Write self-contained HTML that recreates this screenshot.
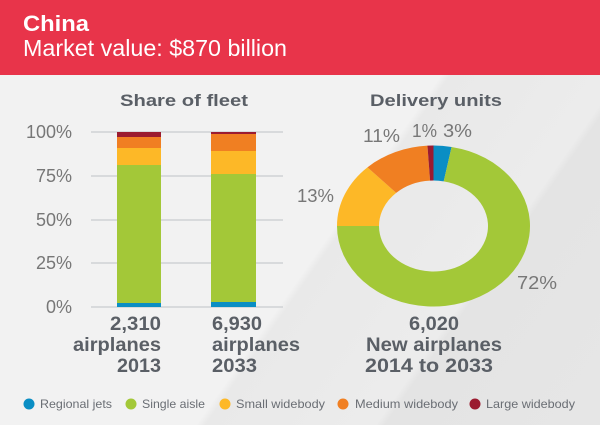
<!DOCTYPE html>
<html><head><meta charset="utf-8"><style>
body{margin:0;width:600px;height:425px;overflow:hidden;font-family:"Liberation Sans",sans-serif;}
.wrap{position:relative;width:600px;height:425px;background:linear-gradient(125deg,#f2f2f2 0%,#f2f2f2 55%,#e9e9e9 56%,#ececec 75%,#e4e4e4 76%,#e6e6e6 100%);}
</style></head><body><div class="wrap">
<svg width="600" height="425" style="position:absolute;left:0;top:0" font-family="Liberation Sans, sans-serif">
<rect x="0" y="0" width="600" height="75" fill="#e8344a"/>
<text x="23" y="31" font-size="22" font-weight="bold" fill="#fff" textLength="66" lengthAdjust="spacingAndGlyphs">China</text>
<text x="23" y="56" font-size="23" fill="#fff" textLength="264" lengthAdjust="spacingAndGlyphs">Market value: $870 billion</text>
<g font-size="17" font-weight="bold" fill="#5a5f66">
<text x="120" y="106" textLength="128" lengthAdjust="spacingAndGlyphs">Share of fleet</text>
<text x="370" y="106" textLength="132" lengthAdjust="spacingAndGlyphs">Delivery units</text>
</g>
<g stroke="#c9cccf" stroke-width="1.2">
<line x1="91" y1="132" x2="283" y2="132"/><line x1="91" y1="176" x2="283" y2="176"/>
<line x1="91" y1="220" x2="283" y2="220"/><line x1="91" y1="263" x2="283" y2="263"/>
<line x1="91" y1="307" x2="283" y2="307"/>
</g>
<g font-size="18" fill="#777" text-anchor="end">
<text x="72" y="138">100%</text><text x="72" y="182">75%</text><text x="72" y="226">50%</text>
<text x="72" y="269">25%</text><text x="72" y="313">0%</text>
</g>
<rect x="117" y="132" width="44" height="5" fill="#9b1b30"/>
<rect x="117" y="137" width="44" height="11" fill="#f07f22"/>
<rect x="117" y="148" width="44" height="17" fill="#fdb827"/>
<rect x="117" y="165" width="44" height="138" fill="#a3c838"/>
<rect x="117" y="303" width="44" height="4" fill="#0a8ec4"/>
<rect x="211" y="132" width="45" height="2" fill="#9b1b30"/>
<rect x="211" y="134" width="45" height="17" fill="#f07f22"/>
<rect x="211" y="151" width="45" height="23" fill="#fdb827"/>
<rect x="211" y="174" width="45" height="128" fill="#a3c838"/>
<rect x="211" y="302" width="45" height="5" fill="#0a8ec4"/>
<g font-size="19" font-weight="bold" fill="#5a5f66" lengthAdjust="spacingAndGlyphs">
<text x="110" y="330" textLength="51" lengthAdjust="spacingAndGlyphs">2,310</text>
<text x="73" y="351" textLength="88" lengthAdjust="spacingAndGlyphs">airplanes</text>
<text x="117" y="372" textLength="44" lengthAdjust="spacingAndGlyphs">2013</text>
<text x="212" y="330" textLength="50" lengthAdjust="spacingAndGlyphs">6,930</text>
<text x="212" y="351" textLength="88" lengthAdjust="spacingAndGlyphs">airplanes</text>
<text x="212" y="372" textLength="45" lengthAdjust="spacingAndGlyphs">2033</text>
<text x="409" y="330" textLength="50" lengthAdjust="spacingAndGlyphs">6,020</text>
<text x="366" y="351" textLength="136" lengthAdjust="spacingAndGlyphs">New airplanes</text>
<text x="365" y="372" textLength="128" lengthAdjust="spacingAndGlyphs">2014 to 2033</text>
</g>
<g transform="translate(433.5,226) scale(1,0.834)">
<path d="M0,-96.5 A96.5,96.5 0 0 1 18.08,-94.79 L10.21,-53.53 A54.5,54.5 0 0 0 0,-54.5Z" fill="#0a8ec4"/>
<path d="M18.08,-94.79 A96.5,96.5 0 1 1 -96.5,0 L-54.5,0 A54.5,54.5 0 1 0 10.21,-53.53Z" fill="#a3c838"/>
<path d="M-96.5,0 A96.5,96.5 0 0 1 -66.06,-70.35 L-37.31,-39.73 A54.5,54.5 0 0 0 -54.5,0Z" fill="#fdb827"/>
<path d="M-66.06,-70.35 A96.5,96.5 0 0 1 -6.06,-96.31 L-3.42,-54.39 A54.5,54.5 0 0 0 -37.31,-39.73Z" fill="#f07f22"/>
<path d="M-6.06,-96.31 A96.5,96.5 0 0 1 0,-96.5 L0,-54.5 A54.5,54.5 0 0 0 -3.42,-54.39Z" fill="#9b1b30"/>
</g>
<g font-size="18" fill="#777">
<text x="363" y="142" textLength="37" lengthAdjust="spacingAndGlyphs">11%</text>
<text x="412" y="137" textLength="25" lengthAdjust="spacingAndGlyphs">1%</text>
<text x="443" y="137" textLength="29" lengthAdjust="spacingAndGlyphs">3%</text>
<text x="297" y="202" textLength="37" lengthAdjust="spacingAndGlyphs">13%</text>
<text x="517" y="289" textLength="40" lengthAdjust="spacingAndGlyphs">72%</text>
</g>
<g font-size="12" fill="#6a6e74">
<circle cx="29" cy="404" r="5.5" fill="#0a8ec4"/><text x="40" y="408" textLength="72" lengthAdjust="spacingAndGlyphs">Regional jets</text>
<circle cx="131" cy="404" r="5.5" fill="#a3c838"/><text x="142" y="408" textLength="63" lengthAdjust="spacingAndGlyphs">Single aisle</text>
<circle cx="225" cy="404" r="5.5" fill="#fdb827"/><text x="236" y="408" textLength="89" lengthAdjust="spacingAndGlyphs">Small widebody</text>
<circle cx="343" cy="404" r="5.5" fill="#f07f22"/><text x="355" y="408" textLength="103" lengthAdjust="spacingAndGlyphs">Medium widebody</text>
<circle cx="475" cy="404" r="5.5" fill="#9b1b30"/><text x="486" y="408" textLength="89" lengthAdjust="spacingAndGlyphs">Large widebody</text>
</g>
</svg>
</div></body></html>
